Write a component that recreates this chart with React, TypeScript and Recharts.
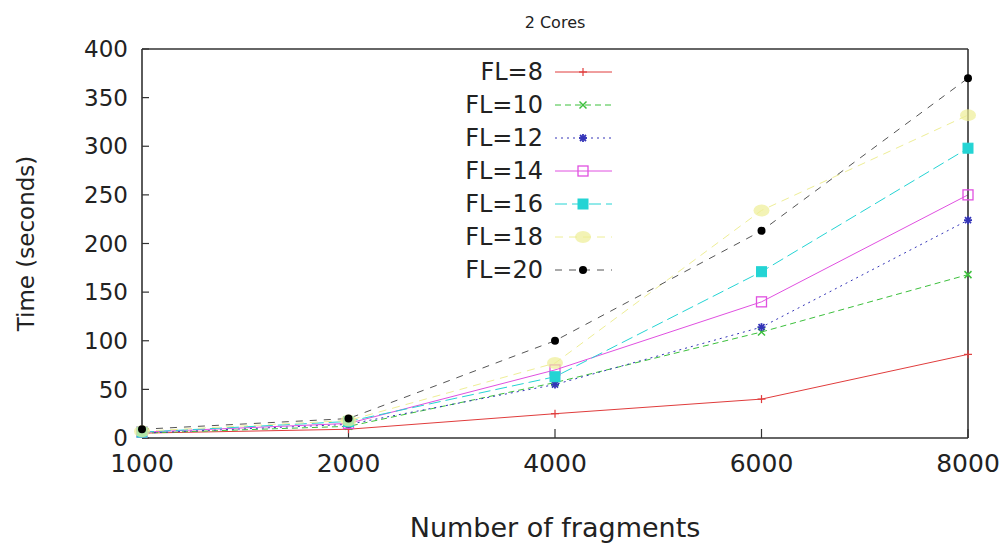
import React from "react";
import { LineChart, Line, XAxis, YAxis, Legend } from "recharts";

const fragments = ["1000", "2000", "4000", "6000", "8000"];
const fl8 = [5, 9, 25, 40, 86];
const fl10 = [5, 12, 57, 109, 168];
const fl12 = [5, 14, 55, 114, 224];
const fl14 = [6, 15, 70, 140, 250];
const fl16 = [6, 17, 63, 171, 298];
const fl18 = [7, 18, 77, 234, 332];
const fl20 = [9, 20, 100, 213, 370];
const yTicks = [0, 50, 100, 150, 200, 250, 300, 350, 400];

const FONT = "'DejaVu Sans', 'Liberation Sans', sans-serif";

type Shape = "plus" | "cross" | "star" | "square" | "fsquare" | "blob" | "circle";

interface SeriesDef {
  key: string;
  name: string;
  values: number[];
  color: string;
  dash?: string;
  shape: Shape;
}

const series: SeriesDef[] = [
  { key: "fl8", name: "FL=8", values: fl8, color: "#e03c3c", shape: "plus" },
  { key: "fl10", name: "FL=10", values: fl10, color: "#3cc03c", dash: "6 4", shape: "cross" },
  { key: "fl12", name: "FL=12", values: fl12, color: "#3434b8", dash: "2 4", shape: "star" },
  { key: "fl14", name: "FL=14", values: fl14, color: "#e050e0", shape: "square" },
  { key: "fl16", name: "FL=16", values: fl16, color: "#24d4d4", dash: "12 5", shape: "fsquare" },
  { key: "fl18", name: "FL=18", values: fl18, color: "#eeee96", dash: "8 6", shape: "blob" },
  { key: "fl20", name: "FL=20", values: fl20, color: "#555555", dash: "7 7", shape: "circle" },
];

const data = fragments.map((x, i) => {
  const row: Record<string, string | number> = { x };
  series.forEach((s) => {
    row[s.key] = s.values[i];
  });
  return row;
});

function Marker({ cx, cy, shape, color }: { cx: number; cy: number; shape: Shape; color: string }) {
  switch (shape) {
    case "plus":
      return (
        <g stroke={color} strokeWidth={1.2}>
          <line x1={cx - 4} y1={cy} x2={cx + 4} y2={cy} />
          <line x1={cx} y1={cy - 4} x2={cx} y2={cy + 4} />
        </g>
      );
    case "cross":
      return (
        <g stroke={color} strokeWidth={1.5}>
          <line x1={cx - 3.5} y1={cy - 3.5} x2={cx + 3.5} y2={cy + 3.5} />
          <line x1={cx - 3.5} y1={cy + 3.5} x2={cx + 3.5} y2={cy - 3.5} />
        </g>
      );
    case "star":
      return (
        <g stroke={color} strokeWidth={1.8}>
          <line x1={cx - 4} y1={cy} x2={cx + 4} y2={cy} />
          <line x1={cx} y1={cy - 4} x2={cx} y2={cy + 4} />
          <line x1={cx - 3} y1={cy - 3} x2={cx + 3} y2={cy + 3} />
          <line x1={cx - 3} y1={cy + 3} x2={cx + 3} y2={cy - 3} />
        </g>
      );
    case "square":
      return <rect x={cx - 5} y={cy - 5} width={10} height={10} fill="none" stroke={color} strokeWidth={1.3} />;
    case "fsquare":
      return <rect x={cx - 5} y={cy - 5} width={10} height={10} fill={color} stroke={color} />;
    case "blob":
      return <ellipse cx={cx} cy={cy} rx={8} ry={6} fill={color} opacity={0.7} />;
    case "circle":
      return <circle cx={cx} cy={cy} r={4} fill="#000" />;
  }
}

function makeDot(s: SeriesDef) {
  return (props: any) => {
    const { cx, cy, index } = props;
    if (cx == null || cy == null) return <g key={index} />;
    return (
      <g key={`${s.key}-${index}`}>
        <Marker cx={cx} cy={cy} shape={s.shape} color={s.color} />
      </g>
    );
  };
}

function KeyBox() {
  const rowH = 33;
  return (
    <svg width={240} height={240} style={{ overflow: "visible" }}>
      {series.map((s, i) => {
        const y = 22 + i * rowH;
        return (
          <g key={s.key}>
            <text
              x={143}
              y={y}
              textAnchor="end"
              dominantBaseline="central"
              fontFamily={FONT}
              fontSize={24}
              fill="#222"
            >
              {s.name}
            </text>
            <line x1={155} y1={y} x2={212} y2={y} stroke={s.color} strokeWidth={1} strokeDasharray={s.dash} />
            <Marker cx={183} cy={y} shape={s.shape} color={s.color} />
          </g>
        );
      })}
    </svg>
  );
}

export default function App() {
  const axisLine = { stroke: "#333", strokeWidth: 1.6 };
  return (
    <div style={{ position: "absolute", left: 0, top: 0, background: "#fff" }}>
      <LineChart width={1006} height={545} data={data} margin={{ top: 48, right: 37, bottom: 0, left: 0 }}>
        <XAxis
          dataKey="x"
          type="category"
          height={107}
          interval={0}
          tickSize={-9}
          tickMargin={25}
          axisLine={axisLine}
          tickLine={{ stroke: "#333", strokeWidth: 1.2 }}
          tick={{ fontFamily: FONT, fontSize: 25, fill: "#222" }}
          label={{
            value: "Number of fragments",
            position: "insideBottom",
            offset: 8,
            style: { fontFamily: FONT, fontSize: 27, fill: "#222" },
          }}
        />
        <XAxis
          xAxisId="top"
          dataKey="x"
          type="category"
          orientation="top"
          height={1}
          interval={0}
          tickSize={-8}
          tick={false}
          axisLine={axisLine}
          tickLine={{ stroke: "#333", strokeWidth: 1.2 }}
          label={{
            value: "2 Cores",
            position: "top",
            offset: 20,
            style: { fontFamily: FONT, fontSize: 16, fill: "#222" },
          }}
        />
        <YAxis
          domain={[0, 400]}
          ticks={yTicks}
          width={142}
          tickSize={-7}
          tickMargin={21}
          axisLine={axisLine}
          tickLine={{ stroke: "#333", strokeWidth: 1.2 }}
          tick={{ fontFamily: FONT, fontSize: 23, fill: "#222" }}
          label={{
            value: "Time (seconds)",
            angle: -90,
            position: "insideLeft",
            offset: 26,
            style: { fontFamily: FONT, fontSize: 23, fill: "#222", textAnchor: "middle" },
          }}
        />
        <YAxis
          yAxisId="r"
          orientation="right"
          domain={[0, 400]}
          ticks={yTicks}
          width={1}
          tickSize={-7}
          tick={false}
          axisLine={axisLine}
          tickLine={{ stroke: "#333", strokeWidth: 1.2 }}
        />
        <Legend
          layout="vertical"
          align="center"
          verticalAlign="middle"
          content={() => <KeyBox />}
          wrapperStyle={{ position: "absolute", left: 400, top: 50, width: 240, height: 240 }}
        />
        {series.map((s) => (
          <Line
            key={s.key}
            type="linear"
            dataKey={s.key}
            name={s.name}
            stroke={s.color}
            strokeWidth={1}
            strokeDasharray={s.dash}
            dot={makeDot(s)}
            activeDot={false}
            isAnimationActive={false}
          />
        ))}
      </LineChart>
    </div>
  );
}
